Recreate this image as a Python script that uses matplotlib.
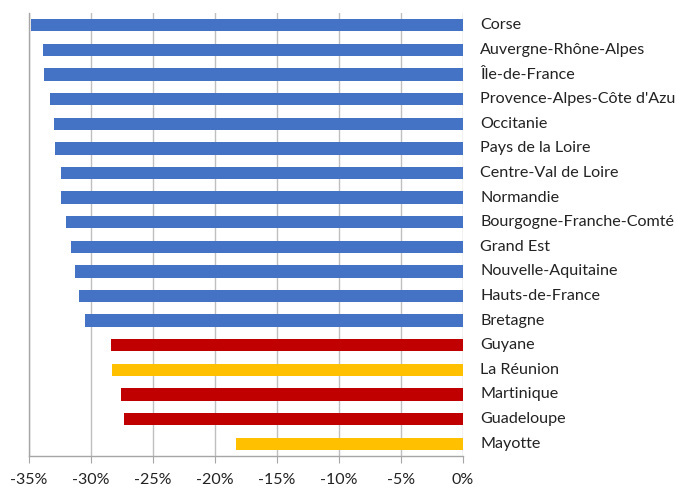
import matplotlib
matplotlib.use("Agg")
import matplotlib.pyplot as plt
from matplotlib.ticker import FuncFormatter

# Regions and their variation (%), top to bottom
regions = ["Corse", "Auvergne-Rhône-Alpes", "Île-de-France", "Provence-Alpes-Côte d'Azu",
           "Occitanie", "Pays de la Loire", "Centre-Val de Loire", "Normandie",
           "Bourgogne-Franche-Comté", "Grand Est", "Nouvelle-Aquitaine", "Hauts-de-France",
           "Bretagne", "Guyane", "La Réunion", "Martinique", "Guadeloupe", "Mayotte"]
values = [-34.8, -33.9, -33.8, -33.3, -33.0, -32.9, -32.4, -32.4, -32.0, -31.6,
          -31.3, -31.0, -30.5, -28.4, -28.3, -27.6, -27.3, -18.3]
groups = ["metro"] * 13 + ["dom", "dom2", "dom", "dom", "dom2"]

palette = {"metro": "#4472C4", "dom": "#C00000", "dom2": "#FFC000"}
colors = [palette[g] for g in groups]

plt.rcParams['font.family'] = ['Lato', 'DejaVu Sans']

fig = plt.figure(figsize=(6.77, 4.88), dpi=100)
ax = fig.add_axes([29 / 677, 1 - 456 / 488, (463 - 29) / 677, (456 - 13) / 488])

y = list(range(len(regions)))
ax.barh(y, values, height=0.5, color=colors, zorder=3)
ax.set_ylim(len(regions) - 0.5, -0.5)
ax.set_xlim(-35, 0)
ax.set_xticks(range(-35, 1, 5))
ax.xaxis.set_major_formatter(FuncFormatter(lambda v, p: f"{int(v)}%"))
ax.set_yticks([])

ax.grid(axis="x", color="#BFBFBF", linewidth=1, zorder=0)
for s in ["top", "right"]:
    ax.spines[s].set_visible(False)
for s in ["left", "bottom"]:
    ax.spines[s].set_color("#A6A6A6")
    ax.spines[s].set_linewidth(1)
ax.tick_params(axis="x", length=5, color="#A6A6A6", labelsize=11.5, pad=7, labelcolor="#222222")

for yi, name in zip(y, regions):
    ax.annotate(name, xy=(0, yi), xytext=(12.5, 0), textcoords="offset points",
                va="center", ha="left", fontsize=11.6, color="#222222", annotation_clip=False)

fig.savefig("out.png", dpi=100)
